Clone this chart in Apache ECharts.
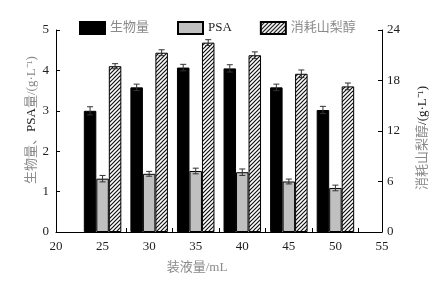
<!DOCTYPE html>
<html>
<head>
<meta charset="utf-8">
<script src="https://cdn.jsdelivr.net/npm/echarts@6/dist/echarts.min.js"></script>
<style>
  html, body { margin: 0; padding: 0; background: #fff; }
  #chart { width: 439px; height: 281px; }
</style>
</head>
<body>
<div id="chart"></div>
<script>
// 装液量 (mL)
const volumes = [25, 30, 35, 40, 45, 50];
// 生物量 g/L
const biomass = [3.0, 3.58, 4.07, 4.05, 3.58, 3.02];
const biomassErr = [0.1, 0.08, 0.08, 0.09, 0.08, 0.09];
// PSA g/L
const psa = [1.32, 1.44, 1.51, 1.48, 1.25, 1.09];
const psaErr = [0.08, 0.06, 0.07, 0.08, 0.06, 0.07];
// 消耗山梨醇 g/L (right axis)
const sorbitol = [19.7, 21.3, 22.5, 21.0, 18.8, 17.3];
const sorbitolErr = [0.3, 0.35, 0.35, 0.4, 0.45, 0.4];
const xTickMarks = [27.5, 32.5, 37.5, 42.5, 47.5, 52.5];

const serif = "'Liberation Serif', 'Times New Roman', 'Noto Sans CJK SC', serif";
const cnGrey = '#8a8a8a';
const dark = '#1e1e1e';
const barW = 12.5;

// hatch tile for the sorbitol bars
function makeHatch() {
    const c = document.createElement('canvas');
    c.width = 4; c.height = 4;
    const g = c.getContext('2d');
    g.fillStyle = '#fff';
    g.fillRect(0, 0, 4, 4);
    g.strokeStyle = '#111';
    g.lineWidth = 1.2;
    g.beginPath();
    g.moveTo(0, 4); g.lineTo(4, 0);
    g.moveTo(-1, 1); g.lineTo(1, -1);
    g.moveTo(3, 5); g.lineTo(5, 3);
    g.stroke();
    return c;
}
const hatch = {image: makeHatch(), repeat: 'repeat'};

const pairs = (vals, errs) => volumes.map((v, i) => [v, vals[i], errs[i]]);

const errorBar = (name, data, yIdx, shift) => ({
    name: name,
    type: 'custom',
    yAxisIndex: yIdx,
    z: 10,
    silent: true,
    encode: {x: 0, y: 1},
    data: data,
    renderItem: (params, api) => {
        const x = api.value(0);
        const y = api.value(1);
        const e = api.value(2);
        const hi = api.coord([x, y + e]);
        const lo = api.coord([x, y - e]);
        const cx = hi[0] + shift;
        const cap = 3;
        const style = {stroke: '#333', lineWidth: 1};
        return {
            type: 'group',
            children: [
                {type: 'line', shape: {x1: cx, y1: hi[1], x2: cx, y2: lo[1]}, style: style},
                {type: 'line', shape: {x1: cx - cap, y1: hi[1], x2: cx + cap, y2: hi[1]}, style: style},
                {type: 'line', shape: {x1: cx - cap, y1: lo[1], x2: cx + cap, y2: lo[1]}, style: style}
            ]
        };
    }
});

const chart = echarts.init(document.getElementById('chart'));
const option = {
    animation: false,
    backgroundColor: '#fff',
    textStyle: {fontFamily: serif},
    grid: {left: 56, right: 57, top: 30, bottom: 49},
    legend: {
        left: 74,
        top: 16,
        itemWidth: 25,
        itemHeight: 12,
        itemGap: 28,
        icon: 'rect',
        textStyle: {fontFamily: serif, fontSize: 13, color: cnGrey},
        data: [
            {name: '生物量'},
            {name: 'PSA', textStyle: {color: dark}},
            {name: '消耗山梨醇'}
        ]
    },
    xAxis: {
        type: 'value',
        min: 20,
        max: 55,
        interval: 5,
        name: '装液量/mL',
        nameLocation: 'middle',
        nameGap: 29,
        nameTextStyle: {fontFamily: serif, fontSize: 13, color: cnGrey, padding: [0, 44, 0, 0]},
        axisLine: {lineStyle: {color: '#000', width: 1}},
        axisTick: {show: true, inside: true, length: 4, customValues: xTickMarks, lineStyle: {color: '#000'}},
        axisLabel: {fontFamily: serif, fontSize: 13, color: dark, margin: 8},
        splitLine: {show: false}
    },
    yAxis: [
        {
            type: 'value',
            min: 0,
            max: 5,
            interval: 1,
            name: '{c|生物量、}{l|PSA}{c|量/(g·L⁻¹)}',
            nameLocation: 'middle',
            nameRotate: 90,
            nameGap: 18,
            nameMoveOverlap: false,
            nameTextStyle: {
                fontSize: 13,
                padding: [0, 0, 0, 22],
                rich: {
                    c: {color: cnGrey, fontFamily: serif, fontSize: 13},
                    l: {color: dark, fontFamily: serif, fontSize: 13}
                }
            },
            axisLine: {show: true, lineStyle: {color: '#000'}},
            axisTick: {inside: true, length: 4, lineStyle: {color: '#000'}},
            axisLabel: {fontFamily: serif, fontSize: 13, color: dark, margin: 7},
            splitLine: {show: false}
        },
        {
            type: 'value',
            min: 0,
            max: 24,
            interval: 6,
            position: 'right',
            name: '{c|消耗山梨醇}{l|/(g·L⁻¹)}',
            nameLocation: 'middle',
            nameRotate: 90,
            nameGap: 34,
            nameTextStyle: {
                fontSize: 13,
                padding: [0, 14, 0, 0],
                rich: {
                    c: {color: cnGrey, fontFamily: serif, fontSize: 13},
                    l: {color: dark, fontFamily: serif, fontSize: 13}
                }
            },
            axisLine: {show: true, lineStyle: {color: '#000'}},
            axisTick: {inside: true, length: 4, lineStyle: {color: '#000'}},
            axisLabel: {fontFamily: serif, fontSize: 13, color: dark, margin: 5},
            splitLine: {show: false}
        }
    ],
    series: [
        {
            name: '生物量',
            type: 'bar',
            barWidth: barW,
            barGap: '0%',
            itemStyle: {color: '#000', borderColor: '#000', borderWidth: 1},
            data: volumes.map((v, i) => [v, biomass[i]])
        },
        {
            name: 'PSA',
            type: 'bar',
            barWidth: barW,
            barGap: '0%',
            itemStyle: {color: '#c0c0c0', borderColor: '#000', borderWidth: 1},
            data: volumes.map((v, i) => [v, psa[i]])
        },
        {
            name: '消耗山梨醇',
            type: 'bar',
            yAxisIndex: 1,
            barWidth: barW,
            barGap: '0%',
            itemStyle: {color: hatch, borderColor: '#000', borderWidth: 1},
            data: volumes.map((v, i) => [v, sorbitol[i]])
        },
        errorBar('err-bio', pairs(biomass, biomassErr), 0, -barW),
        errorBar('err-psa', pairs(psa, psaErr), 0, 0),
        errorBar('err-sorb', pairs(sorbitol, sorbitolErr), 1, barW)
    ]
};
chart.setOption(option);
</script>
</body>
</html>
